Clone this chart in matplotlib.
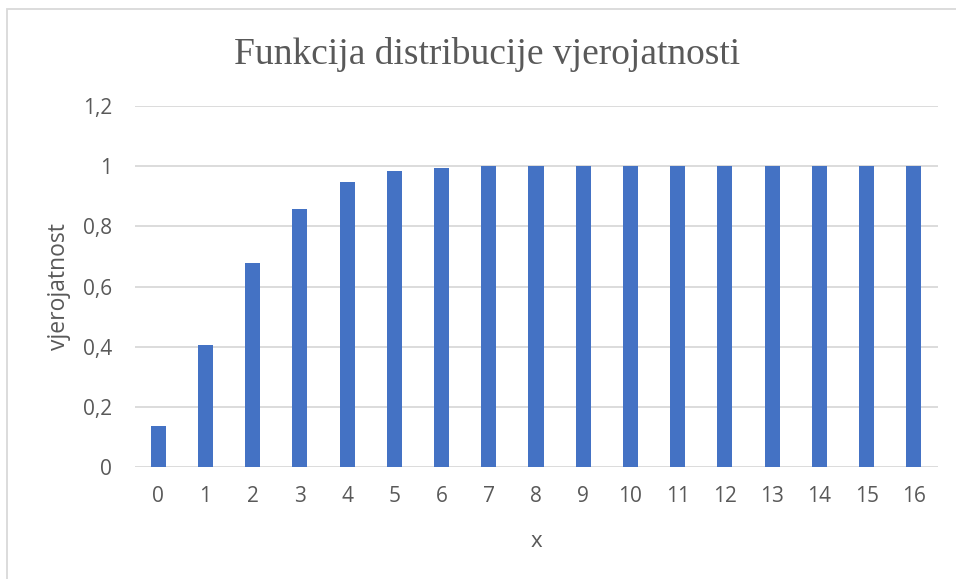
import matplotlib
matplotlib.use("Agg")
import matplotlib.pyplot as plt
from matplotlib.patches import Rectangle
from matplotlib.ticker import FixedLocator, FuncFormatter

# values
x_values = list(range(17))
probabilities = [0.1353, 0.4060, 0.6767, 0.8571, 0.9473, 0.9834, 0.9955, 0.9989,
                 0.9998, 1.0, 1.0, 1.0, 1.0, 1.0, 1.0, 1.0, 1.0]
y_ticks = [0, 0.2, 0.4, 0.6, 0.8, 1.0, 1.2]

title = "Funkcija distribucije vjerojatnosti"
x_label = "x"
y_label = "vjerojatnost"

text_grey = "#595959"
grid_grey = "#d9d9d9"
bar_blue = "#4472c4"

W, H = 956, 579
fig = plt.figure(figsize=(W / 100, H / 100), dpi=100)

# chart-area frame (cropped on the right and bottom in the reference)
fig.patches.append(Rectangle((7 / W, -0.1), 1.2, 1 - 9 / H + 0.1, transform=fig.transFigure,
                             fill=False, edgecolor=grid_grey, linewidth=1.3))

ax = fig.add_axes([134.5 / W, 1 - 467 / H, 803 / W, 361 / H])
ax.bar(x_values, probabilities, width=0.32, color=bar_blue, zorder=3)

ax.set_xlim(-0.5, len(x_values) - 0.5)
ax.set_ylim(0, 1.2)
ax.yaxis.set_major_locator(FixedLocator(y_ticks))
ax.yaxis.set_major_formatter(FuncFormatter(lambda v, p: f"{v:g}".replace(".", ",")))
ax.set_xticks(x_values)
ax.set_xticklabels([str(v) for v in x_values])

ax.grid(axis="y", color=grid_grey, linewidth=1.3, zorder=0)
ax.set_axisbelow(True)
for side in ["top", "right", "left", "bottom"]:
    ax.spines[side].set_visible(False)
ax.tick_params(length=0, labelsize=15, colors=text_grey)
ax.tick_params(axis="x", pad=14)
ax.tick_params(axis="y", pad=16)
for lbl in ax.get_xticklabels() + ax.get_yticklabels():
    lbl.set_family("Open Sans")

ax.set_xlabel(x_label, fontsize=16, color=text_grey, family="Open Sans", labelpad=17)
ax.set_ylabel(y_label, fontsize=16.5, color=text_grey, family="Open Sans")
ax.yaxis.set_label_coords(71 / W, 1 - 287 / H, transform=fig.transFigure)

fig.text(487 / W, 1 - 55 / H, title, ha="center", va="center", fontsize=27,
         color=text_grey, family="Liberation Serif")

fig.savefig("out.png", dpi=100)
